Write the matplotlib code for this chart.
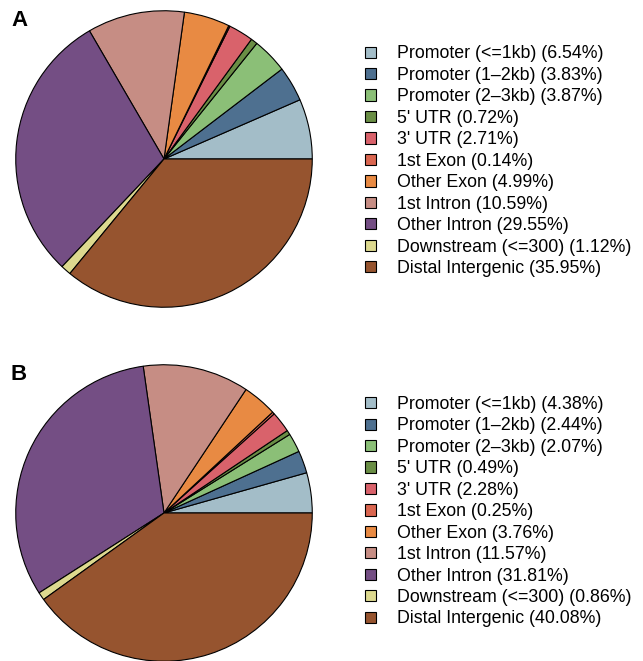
import matplotlib.pyplot as plt
from matplotlib.patches import Patch

# Peak annotation categories (ChIPseeker style)
categories = ["Promoter (<=1kb)", "Promoter (1\u20132kb)", "Promoter (2\u20133kb)",
              "5' UTR", "3' UTR", "1st Exon", "Other Exon", "1st Intron",
              "Other Intron", "Downstream (<=300)", "Distal Intergenic"]
pct_a = [6.54, 3.83, 3.87, 0.72, 2.71, 0.14, 4.99, 10.59, 29.55, 1.12, 35.95]
pct_b = [4.38, 2.44, 2.07, 0.49, 2.28, 0.25, 3.76, 11.57, 31.81, 0.86, 40.08]
panels = ["A", "B"]

colors = ["#a3bdc8", "#4e7090", "#8bbf77", "#6a8e45", "#d9626b", "#da6650",
          "#e88a43", "#c68d84", "#744e84", "#ddd98f", "#96542f"]

plt.rcParams['font.family'] = ['Liberation Sans', 'DejaVu Sans']

W, H = 643, 661
fig = plt.figure(figsize=(W / 100, H / 100), dpi=100)

# pixel geometry: pie centre and radius, legend top
layout = [(164, 159, 149, 45.5), (164, 513, 149, 396)]

for name, vals, (cx, cy, r, ly) in zip(panels, [pct_a, pct_b], layout):
    ax = fig.add_axes([(cx - r) / W, (H - cy - r) / H, 2 * r / W, 2 * r / H])
    ax.pie(vals, colors=colors, startangle=0, counterclock=True,
           wedgeprops=dict(edgecolor="black", linewidth=0.8))
    ax.set_xlim(-1.005, 1.005)
    ax.set_ylim(-1.005, 1.005)
    ax.set_axis_off()

    fig.text(11 / W, 1 - (cy - 139) / H, name, fontsize=16, fontweight="bold",
             va="center", ha="left")

    handles = [Patch(facecolor=c, edgecolor="black", linewidth=0.8) for c in colors]
    labels = [f"{c} ({v:.2f}%)" for c, v in zip(categories, vals)]
    fig.legend(handles, labels, loc="upper left",
               bbox_to_anchor=(365 / W, 1 - ly / H), frameon=False,
               fontsize=12.8, handlelength=0.6, handleheight=0.6,
               handletextpad=1.2, labelspacing=0.25, borderpad=0, borderaxespad=0)

fig.savefig("out.png", dpi=100, facecolor="white")
